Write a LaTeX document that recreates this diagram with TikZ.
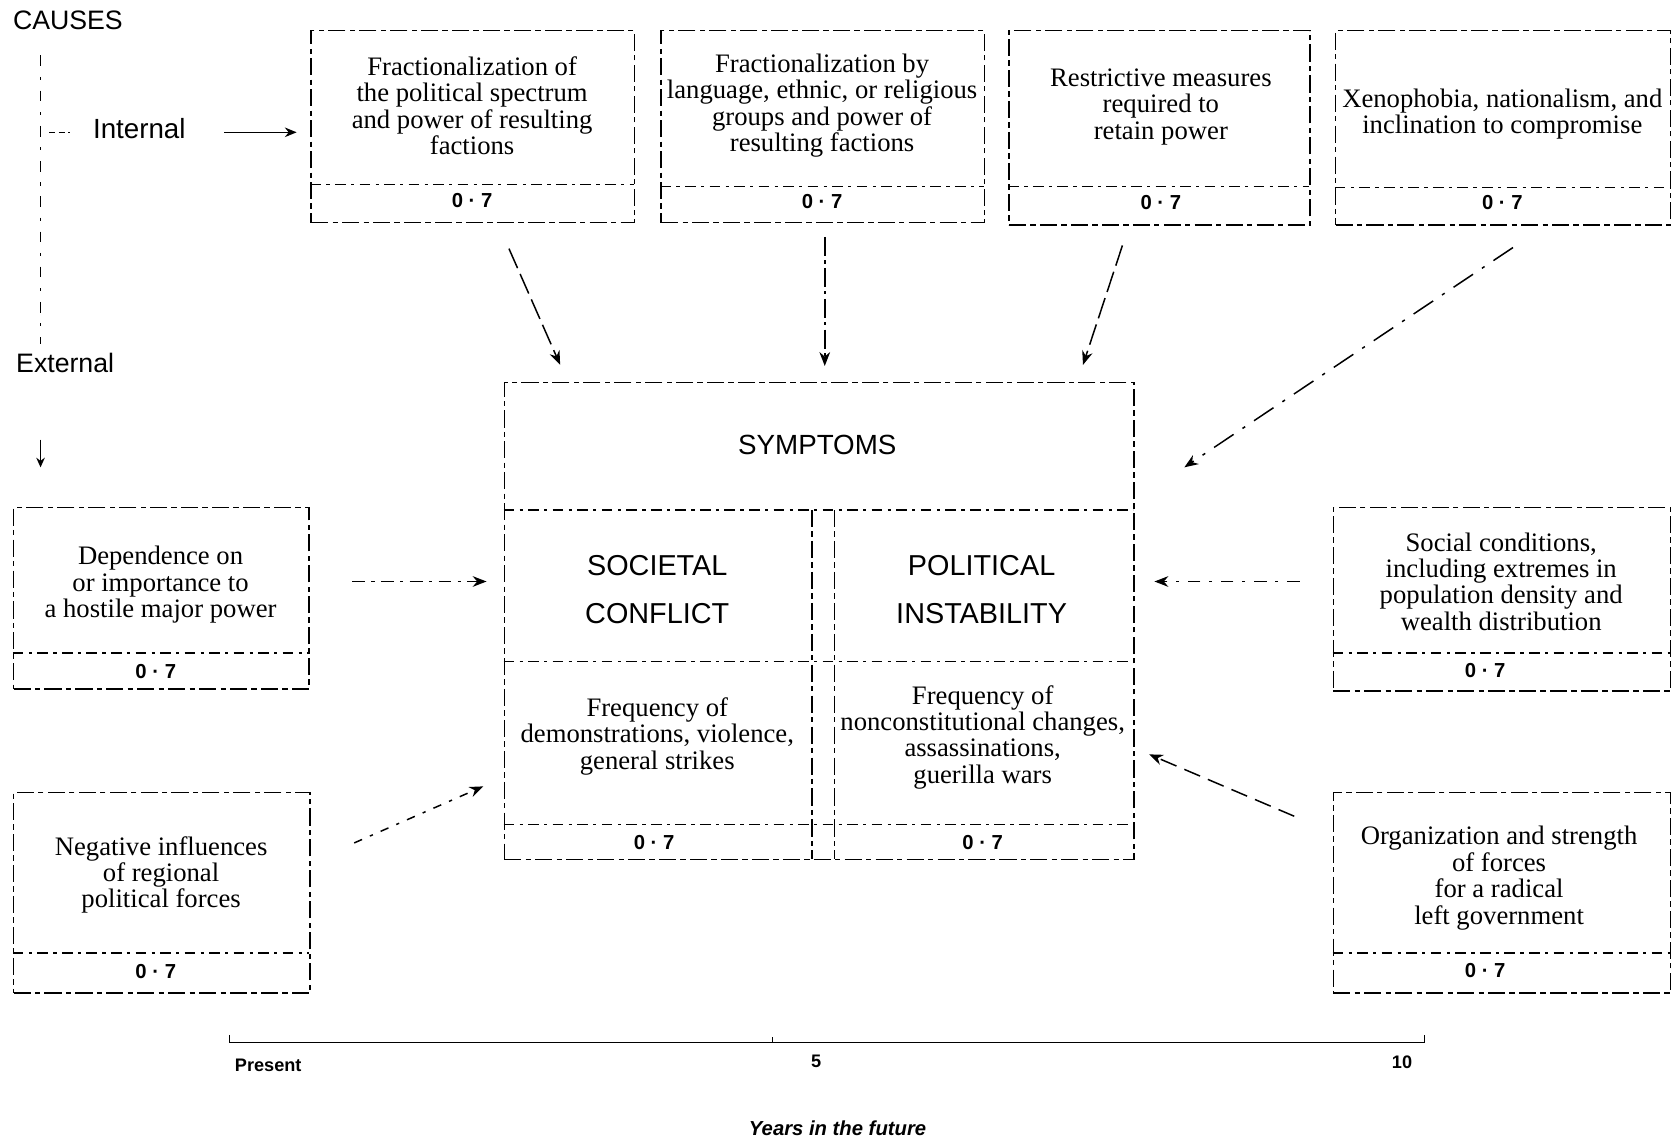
\documentclass[tikz,border=0pt]{standalone}
\usepackage{fontspec}
\setmainfont{Liberation Serif}
\newfontfamily\hsans{Liberation Sans}
\usetikzlibrary{arrows.meta}
\begin{document}
\begin{tikzpicture}[x=1pt,y=-1pt,
  bx/.style={draw, line width=1.4pt, dash pattern=on 16pt off 4pt on 5pt off 4pt, inner sep=0pt, anchor=north west},
  divl/.style={line width=1.3pt, dash pattern=on 10pt off 5pt on 3pt off 5pt},
  body/.style={align=center, inner sep=0pt, font=\fontsize{25}{24.7}\selectfont},
  num/.style={inner sep=0pt, font=\hsans\bfseries\fontsize{19}{20}\selectfont},
  head/.style={inner sep=0pt, anchor=base west, font=\hsans\fontsize{25}{28}\selectfont},
  symt/.style={align=center, inner sep=0pt, font=\hsans\fontsize{27}{45}\selectfont},
  axl/.style={inner sep=0pt, font=\hsans\bfseries\fontsize{17}{19}\selectfont},
  conn/.style={line width=1.4pt, dash pattern=on 14pt off 6pt on 3pt off 6pt, -{Stealth[length=13pt,width=10pt]}},
]
\useasboundingbox (0,0) rectangle (1568,1068);

% headings
\node[head] (causes) at (12,28) {CAUSES};
\node[head, font=\hsans\fontsize{26}{28}\selectfont] (internal) at (87,130) {Internal};
\node[head] (external) at (15,349) {External};

% left bracket line
\coordinate (v1) at (38,52);
\coordinate (v3) at (38,322);
\coordinate (v4) at (38,412);
\coordinate (v2) at (38,438);
\coordinate (h1) at (46,124);
\coordinate (h2) at (66,124);
\draw[line width=1.2pt, dash pattern=on 10pt off 10pt on 3pt off 10pt] (v1) -- (v3);
\draw[line width=1.2pt, -{Stealth[length=9pt,width=8pt]}] (v4) -- (v2);
\draw[line width=1.2pt, dash pattern=on 6pt off 3pt] (h1) -- (h2);
\coordinate (ia) at (210,124);
\coordinate (ib) at (278,124);
\draw[line width=1.5pt, -{Stealth[length=11pt,width=9pt]}] (ia) -- (ib);

% top cause boxes
\node[bx, minimum width=303pt, minimum height=180pt] (c1) at (291,28) {};
\draw[divl] (291,173) -- (594,173);
\node[body] (c1t) at (442.5,99) {Fractionalization of\\the political spectrum\\and power of resulting\\factions};
\node[num] (c1n) at (442.5,188) {0 · 7};

\node[bx, minimum width=303pt, minimum height=180pt] (c2) at (619,28) {};
\draw[divl] (619,175) -- (922,175);
\node[body] (c2t) at (770.5,99) {Fractionalization by\\language, ethnic, or religious\\groups and power of\\resulting factions};
\node[num] (c2n) at (770.5,189) {0 · 7};

\node[bx, minimum width=282pt, minimum height=182pt] (c3) at (945,28) {};
\draw[divl] (945,175) -- (1227,175);
\node[body] (c3t) at (1088,100) {Restrictive measures\\required to\\retain power};
\node[num] (c3n) at (1088,190) {0 · 7};

\node[bx, minimum width=314pt, minimum height=182pt] (c4) at (1251,28) {};
\draw[divl] (1251,176) -- (1565,176);
\node[body] (c4t) at (1408,107) {Xenophobia, nationalism, and\\inclination to compromise};
\node[num] (c4n) at (1408,190) {0 · 7};

% left boxes
\node[bx, minimum width=277pt, minimum height=170pt] (l1) at (12,475) {};
\draw[divl] (12,612) -- (289,612);
\node[body] (l1t) at (150.5,548) {Dependence on\\or importance to\\a hostile major power};
\node[num] (l1n) at (146,629) {0 · 7};

\node[bx, minimum width=278pt, minimum height=188pt] (l2) at (12,742) {};
\draw[divl] (12,893) -- (290,893);
\node[body] (l2t) at (151,820) {Negative influences\\of regional\\political forces};
\node[num] (l2n) at (146,911) {0 · 7};

% right boxes
\node[bx, minimum width=316pt, minimum height=172pt] (r1) at (1249,475) {};
\draw[divl] (1249,612) -- (1565,612);
\node[body] (r1t) at (1407,545) {Social conditions,\\including extremes in\\population density and\\wealth distribution};
\node[num] (r1n) at (1392,628) {0 · 7};

\node[bx, minimum width=316pt, minimum height=188pt] (r2) at (1249,742) {};
\draw[divl] (1249,893) -- (1565,893);
\node[body] (r2t) at (1405,823) {Organization and strength\\of forces\\for a radical\\left government};
\node[num] (r2n) at (1392,910) {0 · 7};

% symptoms box
\node[bx, minimum width=590pt, minimum height=447pt] (sym) at (472,358) {};
\draw[divl] (472,478) -- (1062,478);
\draw[divl] (472,620) -- (1062,620);
\draw[divl] (472,773) -- (1062,773);
\draw[bx] (761,478) -- (761,805);
\draw[bx] (782,478) -- (782,805);
\node[inner sep=0pt, font=\hsans\fontsize{26}{28}\selectfont] (symh) at (766,417) {SYMPTOMS};
\node[symt] (soc) at (616,553) {SOCIETAL\\CONFLICT};
\node[symt] (pol) at (920,553) {POLITICAL\\INSTABILITY};
\node[body] (soct) at (616,690) {Frequency of\\demonstrations, violence,\\general strikes};
\node[body] (polt) at (921,691) {Frequency of\\nonconstitutional changes,\\assassinations,\\guerilla wars};
\node[num] (socn) at (613,790) {0 · 7};
\node[num] (poln) at (921,790) {0 · 7};

% connectors
\coordinate (a1s) at (477,233); \coordinate (a1e) at (525,342);
\coordinate (a2s) at (773,222); \coordinate (a2e) at (773,343);
\coordinate (a3s) at (1052,230); \coordinate (a3e) at (1015,342);
\coordinate (a4s) at (1418,232); \coordinate (a4e) at (1110,438);
\coordinate (a5s) at (330,545); \coordinate (a5e) at (456,545);
\coordinate (a6s) at (332,790); \coordinate (a6e) at (453,737);
\coordinate (a7s) at (1218,545); \coordinate (a7e) at (1082,545);
\coordinate (a8s) at (1213,765); \coordinate (a8e) at (1077,707);
\draw[conn, dash pattern=on 20pt off 6pt] (a1s) -- (a1e);
\draw[conn, dash pattern=on 18pt off 4pt on 3pt off 4pt] (a2s) -- (a2e);
\draw[conn, dash pattern=on 20pt off 6pt] (a3s) -- (a3e);
\draw[conn, dash pattern=on 22pt off 10pt on 3pt off 10pt] (a4s) -- (a4e);
\draw[conn, dash pattern=on 12pt off 6pt on 3pt off 6pt] (a5s) -- (a5e);
\draw[conn, dash pattern=on 8pt off 8pt on 3pt off 8pt] (a6s) -- (a6e);
\draw[conn, dash pattern=on 12pt off 8pt on 3pt off 8pt] (a7s) -- (a7e);
\draw[conn, dash pattern=on 16pt off 8pt] (a8s) -- (a8e);

% time axis
\draw[line width=1.5pt] (215,970) -- (215,977) -- (1335,977) -- (1335,970);
\draw[line width=1.2pt] (724,977) -- (724,972);
\node[axl, anchor=north west] (present) at (220,992) {Present};
\node[axl, anchor=north] (five) at (765,989) {5};
\node[axl, anchor=north] (ten) at (1314,989) {10};
\node[inner sep=0pt, font=\hsans\bfseries\itshape\fontsize{19}{21}\selectfont] (years) at (785,1057) {Years in the future};
\end{tikzpicture}
\end{document}
